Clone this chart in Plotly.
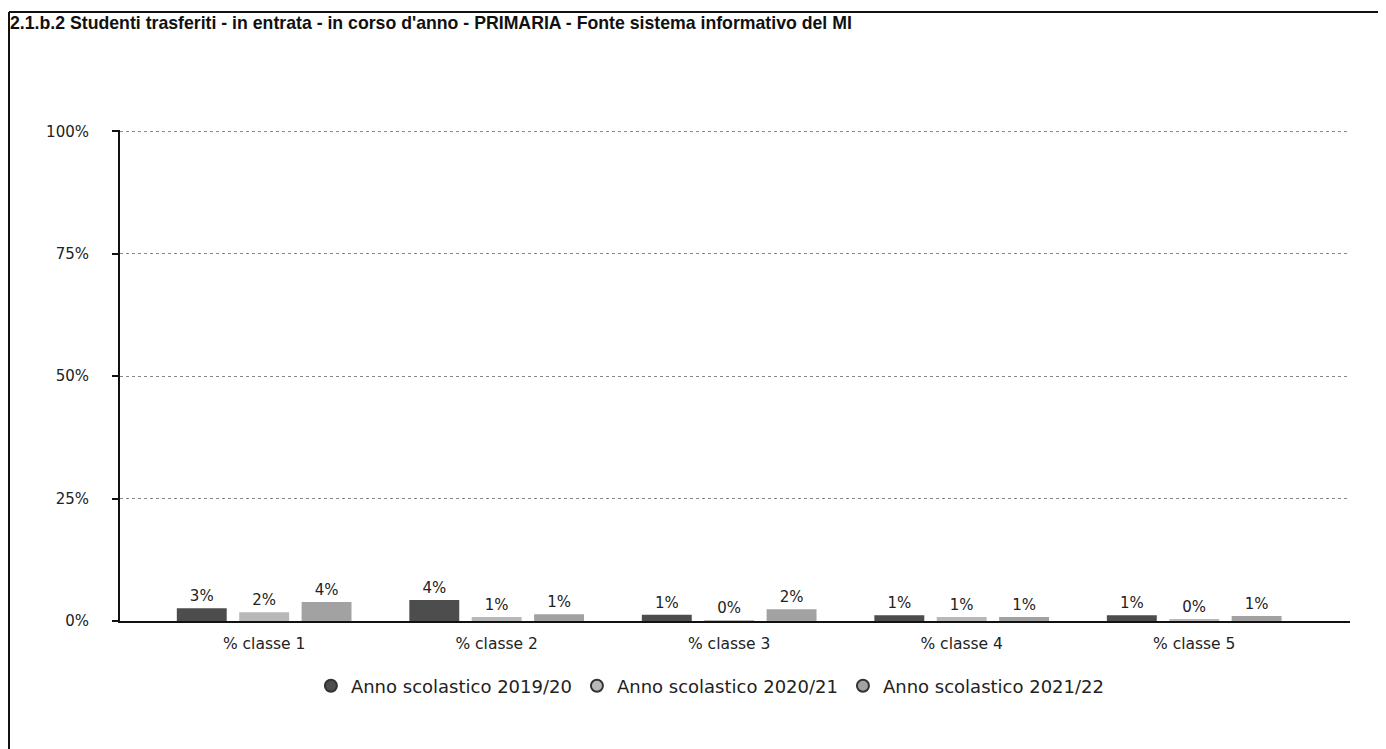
import plotly.graph_objects as go

categories = ["% classe 1", "% classe 2", "% classe 3", "% classe 4", "% classe 5"]
series_names = ["Anno scolastico 2019/20", "Anno scolastico 2020/21", "Anno scolastico 2021/22"]
anno_2019 = [2.6, 4.3, 1.3, 1.2, 1.2]
anno_2020 = [1.8, 0.8, 0.2, 0.8, 0.3]
anno_2021 = [3.9, 1.4, 2.4, 0.8, 1.0]
y_ticks = [0, 25, 50, 75, 100]
y_tick_labels = ["0%", "25%", "50%", "75%", "100%"]

colors = ["#4d4d4d", "#b8b8b8", "#a2a2a2"]
font_txt = "DejaVu Sans"

fig = go.Figure()
for name, vals, col in zip(series_names, [anno_2019, anno_2020, anno_2021], colors):
    fig.add_trace(go.Bar(
        x=categories, y=vals, name=name, marker=dict(color=col, line=dict(width=0)),
        text=[f"{v:.0f}%" for v in vals], textposition="outside", cliponaxis=False,
        textfont=dict(family=font_txt, size=15, color="#222"),
        showlegend=False,
    ))
    # legend entry with a round marker, as in the original
    fig.add_trace(go.Scatter(
        x=[None], y=[None], mode="markers", name=name,
        marker=dict(symbol="circle", size=20, color=col, line=dict(color="#333", width=1)),
    ))

# the page body adds 8px, so the figure is drawn 8px smaller and shifted
W, H = 1378, 741
L, R, T, B = 112, 36, 122, 128
pw, ph = W - L - R, H - T - B

def px(x):
    return (x - L) / pw

def py(y):
    return (H - B - y) / ph

# panel frame (top and left edges)
fig.add_shape(type="line", xref="paper", yref="paper", x0=px(1), x1=px(W + 5), y0=py(4), y1=py(4),
              line=dict(color="#111", width=2))
fig.add_shape(type="line", xref="paper", yref="paper", x0=px(1), x1=px(1), y0=py(4), y1=py(H + 5),
              line=dict(color="#111", width=2))

fig.update_layout(
    width=W, height=H,
    margin=dict(l=L, r=R, t=T, b=B),
    paper_bgcolor="white", plot_bgcolor="white",
    barmode="group", bargap=0.195, bargroupgap=0.2,
    title=dict(text="<b>2.1.b.2 Studenti trasferiti - in entrata - in corso d'anno - PRIMARIA - Fonte sistema informativo del MI</b>",
               x=2 / W, xref="container", xanchor="left", y=1 - 15 / H, yref="container", yanchor="middle",
               font=dict(family="Liberation Sans, Arial", size=17.7, color="#111")),
    xaxis=dict(range=[-0.62, 4.67], showline=True, linecolor="#111", linewidth=2,
               ticks="", showgrid=False, ticklabelstandoff=7,
               tickfont=dict(family=font_txt, size=15.5, color="#222")),
    yaxis=dict(range=[0, 100.3], tickvals=y_ticks, ticktext=y_tick_labels,
               showline=True, linecolor="#111", linewidth=2, ticks="outside", ticklen=6,
               tickcolor="#111", tickwidth=2, zeroline=False, ticklabelstandoff=20,
               showgrid=True, gridcolor="#888", griddash="dot", gridwidth=1,
               tickfont=dict(family=font_txt, size=15, color="#222")),
    legend=dict(orientation="h", x=0.48, xanchor="center", y=py(678), yanchor="middle",
                font=dict(family=font_txt, size=18, color="#222"), itemsizing="constant"),
)

fig.write_html("out.html")
